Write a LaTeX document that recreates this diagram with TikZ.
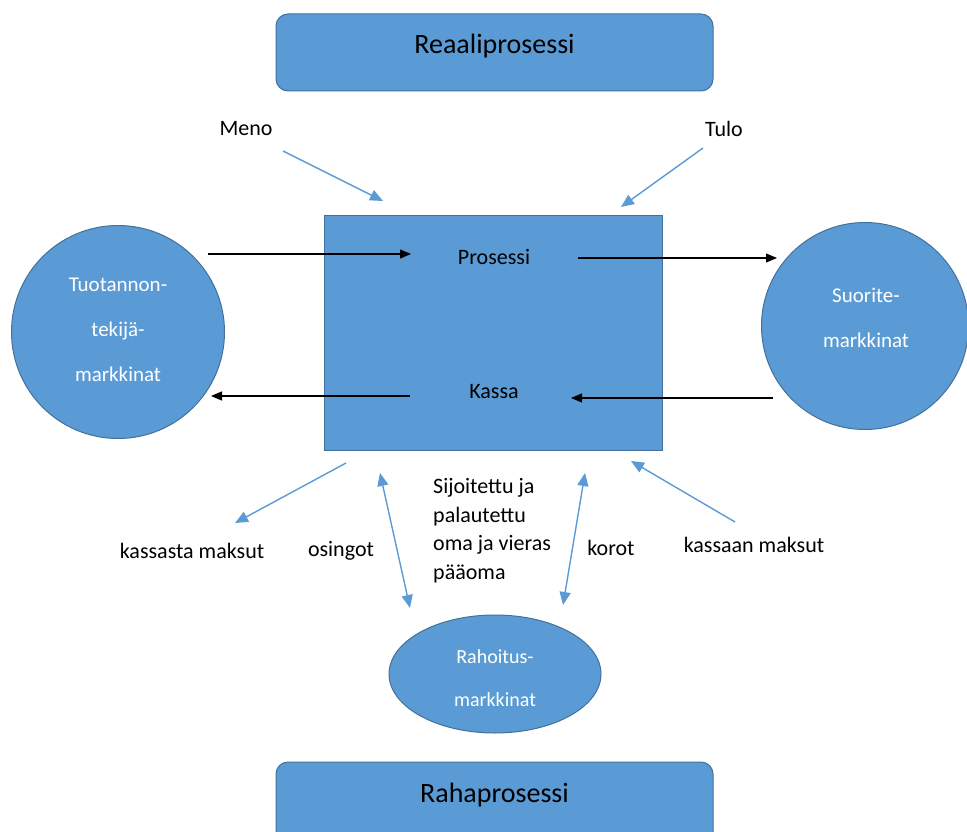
\documentclass[tikz,border=0pt]{standalone}
\usepackage{fontspec}
\setmainfont{Carlito}
\usetikzlibrary{arrows.meta,shapes.geometric}
\definecolor{boxfill}{HTML}{5B9BD5}
\definecolor{boxline}{HTML}{41719C}
\tikzset{
  blockbox/.style={draw=boxline,fill=boxfill,line width=1pt},
  lbl/.style={font=\fontsize{22}{26}\selectfont,inner sep=0pt,text=black},
  wlbl/.style={font=\fontsize{21}{45}\selectfont,inner sep=0pt,text=white,align=center},
  bluearrow/.style={draw=boxfill,line width=1.4pt,-{Triangle[length=13pt,width=11pt]}},
  bluedbl/.style={draw=boxfill,line width=1.4pt,{Triangle[length=13pt,width=11pt]}-{Triangle[length=13pt,width=11pt]}},
  blackarrow/.style={draw=black,line width=1.1pt,-{Triangle[length=11pt,width=9pt]}}
}
\begin{document}
\begin{tikzpicture}[x=1pt,y=-1pt]
\clip (0,0) rectangle (967,832);
\fill[white] (0,0) rectangle (967,832);
% top and bottom process boxes
\draw[blockbox,rounded corners=12pt] (276,14) rectangle (713,91);
\node[lbl,font=\fontsize{28}{32}\selectfont] (reaali) at (494.5,46) {Reaaliprosessi};
\draw[blockbox,rounded corners=12pt] (276,762) rectangle (713,860);
\node[lbl,font=\fontsize{28}{32}\selectfont] (raha) at (494.5,795) {Rahaprosessi};
% central square
\draw[blockbox] (324,215) rectangle (662,450);
\node[lbl] (prosessi) at (494,257) {Prosessi};
\node[lbl] (kassa) at (494,392) {Kassa};
% markets
\node[blockbox,circle,minimum size=213pt,inner sep=0pt] (tuot) at (118,332) {};
\node[wlbl] (tuottxt) at (118,330) {Tuotannon-\\tekijä-\\markkinat};
\node[blockbox,circle,minimum size=207pt,inner sep=0pt] (suor) at (865,326) {};
\node[wlbl] (suortxt) at (866,318) {Suorite-\\markkinat};
\node[blockbox,ellipse,minimum width=212pt,minimum height=118pt,inner sep=0pt] (rahoit) at (495,674) {};
\node[wlbl,font=\fontsize{20}{43}\selectfont] (rahtxt) at (495,678) {Rahoitus-\\markkinat};
% labels
\node[lbl] (meno) at (246,129) {Meno};
\node[lbl] (tulo) at (724,129) {Tulo};
\node[lbl] (kassasta) at (192,551) {kassasta maksut};
\node[lbl] (osingot) at (341,551) {osingot};
\node[lbl,anchor=north west,align=left,font=\fontsize{22}{28.7}\selectfont] (sijoitettu) at (433,478) {Sijoitettu ja\\palautettu\\oma ja vieras\\pääoma};
\node[lbl] (korot) at (611,548) {korot};
\node[lbl] (kassaan) at (754,545) {kassaan maksut};
% coordinates for connector ends
\coordinate (m1) at (283,151); \coordinate (m2) at (383,201);
\coordinate (t1) at (703,148); \coordinate (t2) at (621,207);
\coordinate (p1) at (208,254); \coordinate (p2) at (411,254);
\coordinate (p3) at (578,258); \coordinate (p4) at (777,258);
\coordinate (k1) at (410,396); \coordinate (k2) at (211,396);
\coordinate (k3) at (773,398); \coordinate (k4) at (571,398);
\coordinate (ks1) at (346,463); \coordinate (ks2) at (235,523);
\coordinate (o1) at (380,473); \coordinate (o2) at (410,608);
\coordinate (r1) at (585,473); \coordinate (r2) at (563,605);
\coordinate (ka1) at (735,522); \coordinate (ka2) at (631,461);
% connectors
\draw[bluearrow] (m1) -- (m2);
\draw[bluearrow] (t1) -- (t2);
\draw[blackarrow] (p1) -- (p2);
\draw[blackarrow] (p3) -- (p4);
\draw[blackarrow] (k1) -- (k2);
\draw[blackarrow] (k3) -- (k4);
\draw[bluearrow] (ks1) -- (ks2);
\draw[bluedbl] (o1) -- (o2);
\draw[bluedbl] (r1) -- (r2);
\draw[bluearrow] (ka1) -- (ka2);
\end{tikzpicture}
\end{document}
